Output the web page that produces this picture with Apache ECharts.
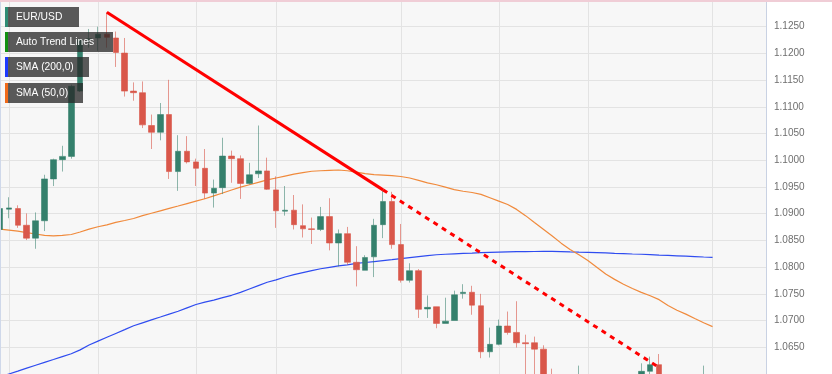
<!DOCTYPE html>
<html><head><meta charset="utf-8">
<script src="https://cdn.jsdelivr.net/npm/echarts@6/dist/echarts.min.js"></script>
<style>html,body{margin:0;padding:0;background:#fff}#c{width:832px;height:374px}</style>
</head><body><div id="c"></div>
<script>
const categories = [
'2023-06-30','2023-07-03','2023-07-04','2023-07-05','2023-07-06','2023-07-07','2023-07-10','2023-07-11','2023-07-12','2023-07-13','2023-07-14',
'2023-07-17','2023-07-18','2023-07-19','2023-07-20','2023-07-21','2023-07-24','2023-07-25','2023-07-26','2023-07-27','2023-07-28','2023-07-31',
'2023-08-01','2023-08-02','2023-08-03','2023-08-04','2023-08-07','2023-08-08','2023-08-09','2023-08-10','2023-08-11','2023-08-14','2023-08-15',
'2023-08-16','2023-08-17','2023-08-18','2023-08-21','2023-08-22','2023-08-23','2023-08-24','2023-08-25','2023-08-28','2023-08-29','2023-08-30',
'2023-08-31','2023-09-01','2023-09-04','2023-09-05','2023-09-06','2023-09-07','2023-09-08','2023-09-11','2023-09-12','2023-09-13','2023-09-14',
'2023-09-15','2023-09-18','2023-09-19','2023-09-20','2023-09-21','2023-09-22','2023-09-25','2023-09-26','2023-09-27','2023-09-28','2023-09-29',
'2023-10-02','2023-10-03','2023-10-04','2023-10-05','2023-10-06','2023-10-09','2023-10-10','2023-10-11','2023-10-12','2023-10-13','2023-10-16',
'2023-10-17','2023-10-18','2023-10-19','2023-10-20','2023-10-23','2023-10-24','2023-10-25','2023-10-26','2023-10-27','2023-10-30'
];
// [open, close, low, high]
const candles = [
[1.08705,1.09097,1.08374,1.09308],[1.09085,1.09109,1.08916,1.09308],[1.09097,1.08784,1.08735,1.09157],[1.08784,1.08543,1.08507,1.09006],
[1.08543,1.08868,1.08344,1.09024],[1.08868,1.09651,1.08675,1.09729],[1.09651,1.10012,1.09518,1.10030],[1.10012,1.10073,1.09789,1.10271],
[1.10073,1.11385,1.10030,1.11416],[1.11295,1.12259,1.11277,1.12277],[1.12259,1.12277,1.12108,1.12458],[1.12289,1.12361,1.12048,1.12500],
[1.12361,1.12301,1.12108,1.12771],[1.12289,1.12018,1.11747,1.12410],[1.12006,1.11295,1.11193,1.12289],[1.11295,1.11265,1.11115,1.11458],
[1.11265,1.10663,1.10603,1.11476],[1.10651,1.10524,1.10211,1.10856],[1.10524,1.10856,1.10374,1.11072],[1.10856,1.09789,1.09651,1.11506],
[1.09789,1.10169,1.09428,1.10470],[1.10169,1.09970,1.09940,1.10452],[1.09970,1.09850,1.09518,1.10031],[1.09850,1.09386,1.09277,1.10211],
[1.09386,1.09476,1.09115,1.09639],[1.09488,1.10079,1.09368,1.10422],[1.10079,1.10030,1.09579,1.10181],[1.10030,1.09567,1.09277,1.10091],
[1.09567,1.09729,1.09549,1.09952],[1.09747,1.09801,1.09669,1.10651],[1.09801,1.09458,1.09446,1.10049],[1.09446,1.09055,1.08735,1.09699],
[1.09048,1.09066,1.08964,1.09518],[1.09066,1.08795,1.08705,1.09350],[1.08777,1.08717,1.08555,1.09175],[1.08717,1.08705,1.08434,1.08928],
[1.08705,1.08946,1.08675,1.09127],[1.08946,1.08452,1.08314,1.09290],[1.08452,1.08627,1.08013,1.08705],[1.08627,1.08091,1.08043,1.08753],
[1.08091,1.07952,1.07639,1.08392],[1.07940,1.08181,1.07940,1.08223],[1.08193,1.08783,1.07814,1.08904],[1.08795,1.09229,1.08543,1.09446],
[1.09229,1.08422,1.08344,1.09410],[1.08422,1.07754,1.07711,1.08808],[1.07754,1.07934,1.07711,1.08073],[1.07934,1.07211,1.07049,1.07964],
[1.07217,1.07247,1.07049,1.07470],[1.07259,1.06947,1.06856,1.07259],[1.06947,1.06989,1.06947,1.07428],[1.07001,1.07482,1.07001,1.07560],
[1.07506,1.07530,1.07410,1.07681],[1.07530,1.07289,1.07109,1.07651],[1.07277,1.06416,1.06296,1.07500],[1.06416,1.06555,1.06308,1.06868],
[1.06555,1.06898,1.06537,1.07019],[1.06898,1.06778,1.06736,1.07169],[1.06778,1.06585,1.06495,1.07362],[1.06585,1.06567,1.05957,1.06736],
[1.06585,1.06465,1.05945,1.06700],[1.06465,1.05900,1.05730,1.06537],[1.05900,1.05700,1.05600,1.06100],[1.05700,1.05000,1.04880,1.05750],
[1.05000,1.05650,1.04960,1.05800],[1.05650,1.05730,1.05400,1.06157],[1.05730,1.04780,1.04700,1.05800],[1.04780,1.04700,1.04480,1.04900],
[1.04700,1.05050,1.04650,1.05250],[1.05050,1.05500,1.05000,1.05600],[1.05500,1.05870,1.04820,1.05900],[1.05870,1.05600,1.04950,1.05750],
[1.05600,1.06050,1.05500,1.06200],[1.06050,1.06175,1.05850,1.06325],[1.06175,1.05300,1.05250,1.06374],[1.05300,1.05100,1.04950,1.05400],
[1.05100,1.05500,1.05050,1.05600],[1.05500,1.05750,1.05350,1.05900],[1.05750,1.05450,1.05300,1.06000],[1.05450,1.05900,1.05250,1.06157],
[1.05900,1.05940,1.05600,1.06000]
];
const sma50 = [
1.08711,1.08693,1.08675,1.08647,1.08620,1.08593,1.08584,1.08593,1.08611,1.08657,1.08711,1.08756,1.08792,1.08837,1.08873,1.08910,
1.08964,1.09009,1.09054,1.09099,1.09144,1.09190,1.09235,1.09280,1.09334,1.09388,1.09443,1.09497,1.09542,1.09587,1.09632,1.09668,
1.09705,1.09741,1.09768,1.09795,1.09804,1.09813,1.09818,1.09804,1.09777,1.09750,1.09732,1.09723,1.09714,1.09696,1.09668,1.09623,
1.09578,1.09542,1.09497,1.09452,1.09421,1.09397,1.09361,1.09298,1.09235,1.09172,1.09081,1.08964,1.08837,1.08711,1.08584,1.08449,
1.08331,1.08232,1.08123,1.07997,1.07870,1.07771,1.07681,1.07599,1.07527,1.07464,1.07392,1.07283,1.07193,1.07121,1.07039,1.06958,1.06886
];
const sma200 = [
1.05946,1.06000,1.06054,1.06109,1.06163,1.06217,1.06271,1.06326,1.06380,1.06452,1.06542,1.06615,1.06687,1.06759,1.06831,1.06904,
1.06958,1.07012,1.07066,1.07121,1.07175,1.07238,1.07301,1.07346,1.07383,1.07428,1.07473,1.07527,1.07590,1.07654,1.07717,1.07762,
1.07816,1.07861,1.07898,1.07934,1.07970,1.07997,1.08024,1.08042,1.08069,1.08087,1.08105,1.08123,1.08141,1.08160,1.08178,1.08196,
1.08214,1.08232,1.08241,1.08250,1.08259,1.08264,1.08272,1.08277,1.08282,1.08286,1.08290,1.08292,1.08293,1.08295,1.08295,1.08292,
1.08286,1.08281,1.08277,1.08272,1.08266,1.08259,1.08254,1.08246,1.08241,1.08234,1.08226,1.08219,1.08212,1.08205,1.08198,1.08190,1.08183
];
const trendSolid = [[12, 1.12771], [43, 1.09446]];
const trendDotted = [[43, 1.09446], [74, 1.06121]];
const gridDays = [1, 11, 22, 31, 45, 56, 66, 80];
const legendItems = ['EUR/USD', 'Auto Trend Lines', 'SMA (200,0)', 'SMA (50,0)'];

const UP = '#34806c', DOWN = '#d9574a';
const legendColors = ['#2e8b74', '#119011', '#1c39ff', '#f06a1a'];
const legendW = [74, 108, 84, 78];
const legendY = [7, 32, 57, 83];

const graphics = [
  {type:'rect', shape:{x:0,y:0,width:832,height:2}, style:{fill:'#f0cdd6'}, z:100},
  {type:'rect', shape:{x:0,y:2,width:1,height:372}, style:{fill:'#cfd8ea'}, z:100}
];
legendItems.forEach((t, i) => {
  graphics.push({type:'rect', shape:{x:5,y:legendY[i],width:legendW[i],height:20}, style:{fill:'rgba(40,40,40,0.76)'}, z:100});
  graphics.push({type:'rect', shape:{x:5,y:legendY[i],width:3,height:20}, style:{fill:legendColors[i]}, z:101});
  graphics.push({type:'text', x:16, y:legendY[i]+10, style:{text:t, fill:'#ffffff', font:'10.3px "Liberation Sans", Arial, sans-serif', textVerticalAlign:'middle', verticalAlign:'middle'}, z:101});
});

const chart = echarts.init(document.getElementById('c'), null, {renderer:'canvas'});
chart.setOption({
  animation: false,
  backgroundColor: '#ffffff',
  grid: {left: 0, width: 766, top: -9.4, height: 387.4, show: true, backgroundColor: '#f7f7f7', borderWidth: 0},
  xAxis: {
    type: 'category', data: categories, boundaryGap: false,
    axisLine: {show: false}, axisLabel: {show: false},
    axisTick: {show: false, interval: (i) => gridDays.includes(i)},
    splitLine: {show: true, interval: (i) => gridDays.includes(i), lineStyle: {color: '#e3e3e3', width: 1}}
  },
  yAxis: {
    type: 'value', position: 'right', min: 1.06, max: 1.13, interval: 0.005, scale: true,
    axisLine: {show: true, lineStyle: {color: '#c9d2e3', width: 1}},
    axisTick: {show: false},
    axisLabel: {show: true, showMinLabel: false, showMaxLabel: false, margin: 8, color: '#6f6f6f',
      fontSize: 10, fontFamily: '"Liberation Sans", Arial, sans-serif', formatter: v => v.toFixed(4)},
    splitLine: {show: true, lineStyle: {color: '#e3e3e3', width: 1}}
  },
  graphic: graphics,
  series: [
    {type: 'line', data: sma200, symbol: 'none', smooth: false, lineStyle: {color: '#2f4cf0', width: 1.2}, z: 3},
    {type: 'line', data: sma50, symbol: 'none', smooth: false, lineStyle: {color: '#f08a3c', width: 1.2}, z: 3},
    {type: 'candlestick', data: candles, barWidth: 6, clip: true, z: 4,
      itemStyle: {color: UP, color0: DOWN, borderColor: 'rgba(52,128,108,0.55)', borderColor0: 'rgba(217,87,74,0.6)', borderWidth: 1}},
    {type: 'line', data: trendSolid, symbol: 'none', lineStyle: {color: '#ff0000', width: 3}, z: 5},
    {type: 'line', data: trendDotted, symbol: 'none', lineStyle: {color: '#ff0000', width: 3, type: [5, 5]}, z: 5}
  ]
});
</script></body></html>
